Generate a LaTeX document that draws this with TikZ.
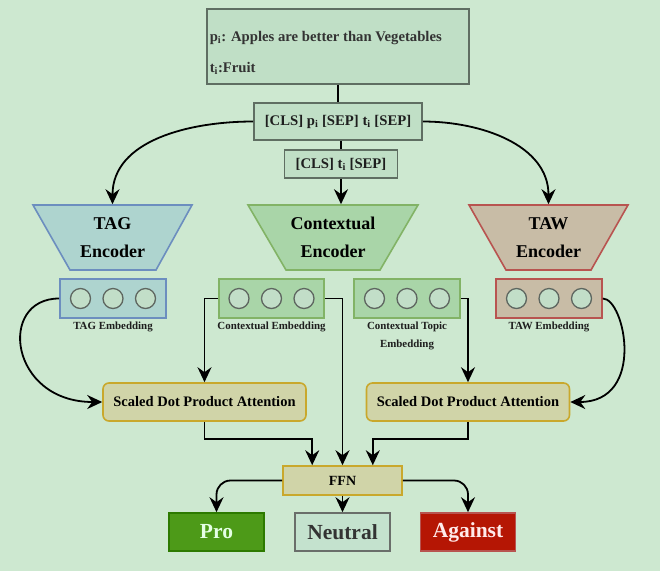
\documentclass[tikz,border=0pt]{standalone}
\usepackage{fontspec}
\setmainfont{Liberation Serif}
\usetikzlibrary{arrows.meta,calc}
\definecolor{bg}{HTML}{CDE8D0}
\definecolor{inputfill}{HTML}{C0DFC6}
\definecolor{inputline}{HTML}{5F6E62}
\definecolor{tagfill}{HTML}{AED4CF}
\definecolor{tagline}{HTML}{6C8EBF}
\definecolor{ctxfill}{HTML}{A9D5A8}
\definecolor{ctxline}{HTML}{82B366}
\definecolor{tawfill}{HTML}{C8BCA6}
\definecolor{tawline}{HTML}{B85450}
\definecolor{circfill}{HTML}{C2DEC8}
\definecolor{circline}{HTML}{5E6660}
\definecolor{attnfill}{HTML}{D0D4A8}
\definecolor{attnline}{HTML}{C9A82C}
\definecolor{profill}{HTML}{4D9A18}
\definecolor{proline}{HTML}{2D7A00}
\definecolor{neufill}{HTML}{C4E2CE}
\definecolor{neuline}{HTML}{6A6E6A}
\definecolor{agfill}{HTML}{B51604}
\definecolor{agline}{HTML}{B85450}
\definecolor{darktext}{HTML}{1E1E1E}
\begin{document}
\begin{tikzpicture}[x=1pt,y=-1pt,line width=1.6pt,
  every node/.style={font=\bfseries, text=darktext, inner sep=0pt},
  inbox/.style={draw=inputline, fill=inputfill, rectangle, font=\fontsize{14.7}{17}\bfseries},
  enc/.style={align=center, minimum width=159pt, minimum height=65pt, font=\fontsize{18}{28}\bfseries, text=black},
  embbox/.style={rectangle, minimum width=106pt, minimum height=39pt},
  dot/.style={circle, draw=circline, fill=circfill, minimum size=20pt, line width=1.3pt},
  lbl/.style={align=center, font=\fontsize{10.9}{18}\bfseries},
  attn/.style={rectangle, rounded corners=6pt, draw=attnline, fill=attnfill, minimum width=203pt, minimum height=38pt, font=\fontsize{14.5}{16}\bfseries, text=black},
  outbox/.style={rectangle, minimum width=95pt, minimum height=38pt, font=\fontsize{21.5}{24}\bfseries},
  arr/.style={-{Stealth[length=15pt,width=14pt,inset=5pt]}, line width=1.8pt, black},
  con/.style={line width=1.8pt, black}]
\useasboundingbox[fill=bg] (0,0) rectangle (660,571);

% input
\node[inbox, minimum width=262pt, minimum height=75pt] (top) at (338,46.5) {};
\node[anchor=west, font=\fontsize{14.7}{17}\bfseries, text=black!80] (topl1) at (209,38) {p\textsubscript{i}: Apples are better than Vegetables};
\node[anchor=west, font=\fontsize{14.7}{17}\bfseries, text=black!80] (topl2) at (209,68) {t\textsubscript{i}:Fruit};
\node[inbox, minimum width=168pt, minimum height=37pt] (cls) at (338,121.5) {[CLS] p\textsubscript{i} [SEP] t\textsubscript{i} [SEP]};
\node[inbox, minimum width=113pt, minimum height=28pt] (cls2) at (341,164) {[CLS] t\textsubscript{i} [SEP]};

% encoders
\draw[draw=tagline, fill=tagfill] (33,205) -- (192,205) -- (156,270) -- (70,270) -- cycle;
\node[enc] (tag) at (112.5,237.5) {TAG\\Encoder};
\draw[draw=ctxline, fill=ctxfill] (248,205) -- (418,205) -- (380,270) -- (286,270) -- cycle;
\node[enc, minimum width=170pt] (ctx) at (333,237.5) {Contextual\\Encoder};
\draw[draw=tawline, fill=tawfill] (469,205) -- (628,205) -- (591,270) -- (506,270) -- cycle;
\node[enc] (taw) at (548.5,237.5) {TAW\\Encoder};

% embeddings
\node[embbox, draw=tagline, fill=tagfill] (tagemb) at (113,298.5) {};
\node[embbox, draw=ctxline, fill=ctxfill, minimum width=105pt] (ctxemb) at (271.5,298.5) {};
\node[embbox, draw=ctxline, fill=ctxfill] (topemb) at (407,298.5) {};
\node[embbox, draw=tawline, fill=tawfill] (tawemb) at (549,298.5) {};
\foreach \e in {tagemb,ctxemb,topemb,tawemb}{
  \node[dot] (\e c1) at ($(\e.center)+(-32.5,0)$) {};
  \node[dot] (\e c2) at (\e.center) {};
  \node[dot] (\e c3) at ($(\e.center)+(32.5,0)$) {};
}
\node[lbl] (tagl) at (113,327) {TAG Embedding};
\node[lbl] (ctxl) at (271.5,327) {Contextual Embedding};
\node[lbl] (topl) at (407,336) {Contextual Topic\\Embedding};
\node[lbl] (tawl) at (549,327) {TAW Embedding};

% attention
\node[attn] (sdpa1) at (204.5,402) {Scaled Dot Product Attention};
\node[attn] (sdpa2) at (468,402) {Scaled Dot Product Attention};
\node[rectangle, draw=attnline, fill=attnfill, minimum width=119pt, minimum height=29pt, font=\fontsize{14}{16}\bfseries, text=black] (ffn) at (342.5,480.5) {FFN};

% outputs
\node[outbox, draw=proline, fill=profill, text=white!90!green] (pro) at (216.5,532) {Pro};
\node[outbox, draw=neuline, fill=neufill, text=black!80] (neu) at (342.5,532) {Neutral};
\node[outbox, draw=agline, fill=agfill, text=white!92!red] (against) at (468,532) {Against};

% connectors
\draw[con] (top.south) -- (top.south |- cls.north);
\draw[con] (cls2.north |- cls.south) -- (cls2.north);
\draw[arr] (cls2.south) -- (cls2.south |- ctx.north);
\draw[arr] (cls.west) to[out=180,in=90] (tag.north);
\draw[arr] (cls.east) to[out=0,in=90] (taw.north);

\draw[arr] (tagemb.west) .. controls +(-62,0) and +(-93,0) .. (sdpa1.west);
\draw[arr] (tawemb.east) .. controls +(22,0) and +(76,0) .. (sdpa2.east);
\draw[arr] (ctxemb.west) -| (sdpa1.north);
\draw[arr] (topemb.east) -| (sdpa2.north);
\draw[arr] (ctxemb.east) -| (ffn.north);
\draw[arr] (sdpa1.south) -- ++(0,17) -| ($(ffn.north west)+(30,0)$);
\draw[arr] (sdpa2.south) -- ++(0,17) -| ($(ffn.north east)+(-30,0)$);

\draw[arr, rounded corners=14pt] (ffn.west) -| (pro.north);
\draw[arr, rounded corners=14pt] (ffn.east) -| (against.north);
\draw[arr] (ffn.south) -- (neu.north);
\end{tikzpicture}
\end{document}
